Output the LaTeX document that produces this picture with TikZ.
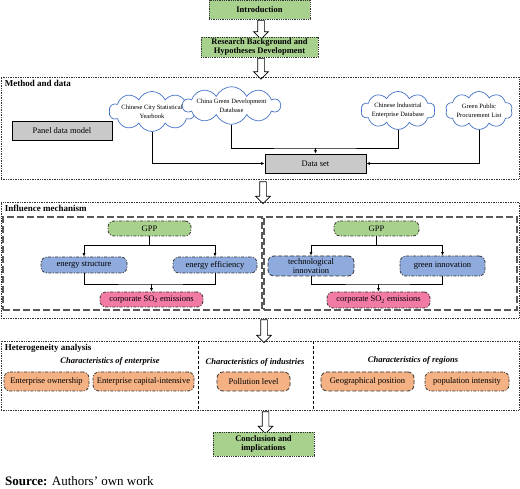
\documentclass[tikz,border=0pt]{standalone}
\usepackage{fontspec}
\setmainfont{Liberation Serif}
\usetikzlibrary{shapes.symbols,shapes.arrows,arrows.meta}
\definecolor{stagegreen}{HTML}{A9D18E}
\definecolor{mechblue}{HTML}{8FAADC}
\definecolor{emitpink}{HTML}{F27BA5}
\definecolor{hetorange}{HTML}{F4B183}
\definecolor{datagray}{HTML}{C9C9C9}
\definecolor{cloudline}{HTML}{4472C4}
\begin{document}
\begin{tikzpicture}[x=1pt,y=-1pt,
	>={Latex[length=3.5pt,width=3pt]},
	link/.style={draw, line width=.8pt},
	stagebox/.style={draw=black!80, densely dotted, line width=.8pt, fill=stagegreen, inner sep=0, align=center, font=\bfseries\fontsize{8.5}{9.5}\selectfont},
	panel/.style={draw=black!80, densely dotted, line width=.7pt, inner sep=0},
	paneltitle/.style={anchor=north west, inner sep=0, font=\bfseries\fontsize{9}{10}\selectfont},
	subpanel/.style={draw=black!65, line width=1.1pt, dash pattern=on 7pt off 3pt, inner sep=0},
	graybox/.style={draw, line width=.7pt, fill=datagray, inner sep=0, font=\fontsize{8.5}{9.5}\selectfont},
	source/.style={cloud, cloud puffs=10, cloud puff arc=130, cloud ignores aspect, draw=cloudline, line width=.7pt, fill=white, inner sep=0, align=center, font=\fontsize{6.5}{9}\selectfont},
	pill/.style={draw=black!80, line width=.8pt, dash pattern=on 3pt off 1.5pt on 1pt off 1.5pt, rounded corners=6pt, inner sep=0, align=center, font=\fontsize{8.5}{9.5}\selectfont},
	pilldash/.style={pill, dash pattern=on 4pt off 2pt},
	subhead/.style={inner sep=0, font=\bfseries\itshape\fontsize{8.5}{9.5}\selectfont},
	bigarrow/.style={single arrow, draw, line width=.7pt, fill=white, inner sep=3pt, minimum width=14pt, single arrow head extend=4pt, single arrow head indent=0pt, shape border rotate=270}]
\useasboundingbox (0,0) rectangle (520,489);

\node[stagebox, minimum width=101, minimum height=19] (intro) at (259.5,9.5) {Introduction};
\node[bigarrow, minimum height=19pt] (arr1) at (261,28) {};
\node[stagebox, minimum width=117, minimum height=20] (research) at (259.5,47) {Research Background and\\Hypotheses Development};
\node[bigarrow, minimum height=21pt] (arr2) at (261,67) {};

% method and data
\node[panel, minimum width=518, minimum height=102] (method) at (260,128) {};
\node[paneltitle] (methodtitle) at ([shift={(4,3)}]method.north west) {Method and data};
\node[source, minimum width=58, minimum height=40] (citybook) at (152,111.5) {Chinese City Statistical\\Yearbook};
\node[source, minimum width=74, minimum height=31] (greendev) at (231.5,105.5) {China Green Development\\Database};
\node[source, minimum width=71, minimum height=38] (industrial) at (398,110.5) {Chinese Industrial\\Enterprise Database};
\node[source, minimum width=67, minimum height=38] (procure) at (479,110.5) {Green Public\\Procurement List};
\node[graybox, minimum width=100, minimum height=19] (panelmodel) at (62,130.5) {Panel data model};
\node[graybox, minimum width=101, minimum height=19] (dataset) at (315.5,163.5) {Data set};
\coordinate (join) at (315.5,148);
\draw[link,->] (citybook.south) |- (dataset.west);
\draw[link] (greendev.south) |- (join) -| (industrial.south);
\draw[link,->] (join) -- (dataset.north);
\draw[link,->] (procure.south) |- (dataset.east);
\node[bigarrow, minimum height=22pt] (arr3) at (263,191) {};

% influence mechanism
\node[panel, minimum width=518, minimum height=116] (mech) at (260,260) {};
\node[paneltitle] (mechtitle) at ([shift={(4,3)}]mech.north west) {Influence mechanism};
\node[subpanel, minimum width=259, minimum height=93] (leftmech) at (132.5,263.5) {};
\node[subpanel, minimum width=253, minimum height=93] (rightmech) at (390.5,263.5) {};

\node[pill, fill=stagegreen, minimum width=83, minimum height=15] (gppL) at (149.5,228.5) {GPP};
\node[pill, fill=mechblue, minimum width=86, minimum height=16] (structure) at (84,265) {energy structure};
\node[pill, fill=mechblue, minimum width=84, minimum height=16] (efficiency) at (215,265) {energy efficiency};
\node[pill, fill=emitpink, minimum width=103, minimum height=15] (so2L) at (151.5,299.5) {corporate SO\textsubscript{2} emissions};
\coordinate (mergeL) at (151.5,284);
\draw[link,->] (gppL.south) -- ++(0,9) -| (structure.north);
\draw[link,->] (gppL.south) -- ++(0,9) -| (efficiency.north);
\draw[link] (structure.south) |- (mergeL) -| (efficiency.south);
\draw[link,->] (mergeL) -- (so2L.north);

\node[pill, fill=stagegreen, minimum width=85, minimum height=15] (gppR) at (376.5,228.5) {GPP};
\node[pilldash, fill=mechblue, minimum width=86, minimum height=20] (techinno) at (311,266) {technological\\innovation};
\node[pill, fill=mechblue, minimum width=85, minimum height=20] (greeninno) at (442.5,266) {green innovation};
\node[pill, fill=emitpink, minimum width=103, minimum height=16] (so2R) at (378.5,300) {corporate SO\textsubscript{2} emissions};
\coordinate (mergeR) at (378.5,284);
\draw[link,->] (gppR.south) -- ++(0,9) -| (techinno.north);
\draw[link,->] (gppR.south) -- ++(0,9) -| (greeninno.north);
\draw[link] (techinno.south) |- (mergeR) -| (greeninno.south);
\draw[link,->] (mergeR) -- (so2R.north);
\node[bigarrow, minimum height=23pt] (arr4) at (264,329.5) {};

% heterogeneity analysis
\node[panel, minimum width=518, minimum height=69] (hetero) at (260,375.5) {};
\node[paneltitle] (heterotitle) at ([shift={(4,3)}]hetero.north west) {Heterogeneity analysis};
\draw[densely dashed, line width=.7pt] (198,341) -- (198,410);
\draw[densely dashed, line width=.7pt] (313,341) -- (313,410);
\node[subhead] (enterhead) at (110,361) {Characteristics of enterprise};
\node[subhead] (industhead) at (255,362) {Characteristics of industries};
\node[subhead] (regionhead) at (413,360) {Characteristics of regions};
\node[pill, fill=hetorange, minimum width=85, minimum height=19] (ownership) at (46.5,381.5) {Enterprise ownership};
\node[pill, fill=hetorange, minimum width=101, minimum height=19] (capital) at (143.5,381.5) {Enterprise capital-intensive};
\node[pilldash, fill=hetorange, minimum width=73, minimum height=19] (pollution) at (253.5,381.5) {Pollution level};
\node[pilldash, fill=hetorange, minimum width=93, minimum height=19] (geography) at (367.5,381.5) {Geographical position};
\node[pill, fill=hetorange, minimum width=84, minimum height=19] (population) at (467,381.5) {population intensity};
\node[bigarrow, minimum height=22pt] (arr5) at (265.5,421) {};

\node[stagebox, minimum width=101, minimum height=24] (conclusion) at (263.5,444) {Conclusion and\\implications};
\node[anchor=west, inner sep=0, font=\fontsize{13}{15}\selectfont] (sourcenote) at (5,481) {\textbf{Source:} Authors’ own work};
\end{tikzpicture}
\end{document}
